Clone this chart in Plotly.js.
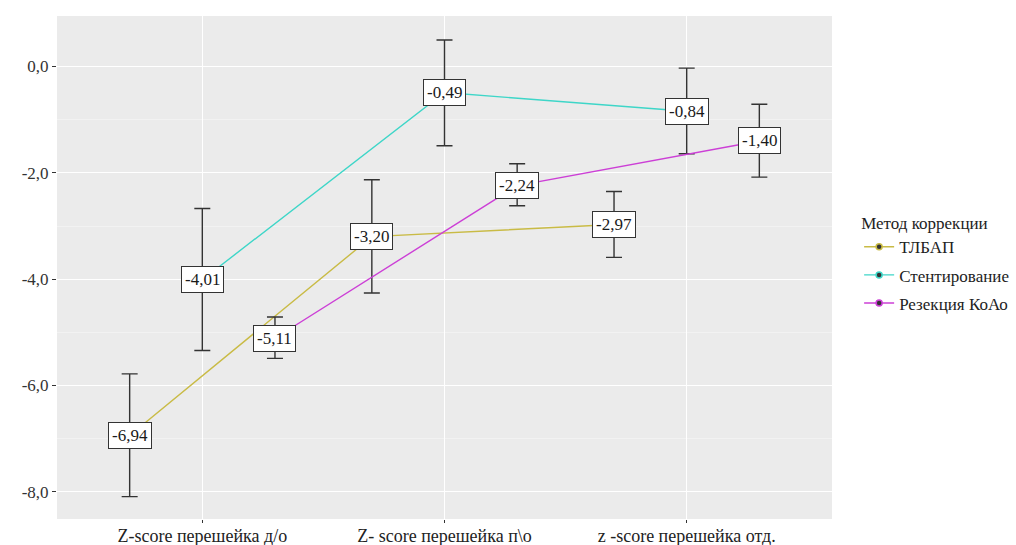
<!DOCTYPE html>
<html>
<head>
<meta charset="utf-8">
<script src="https://cdn.plot.ly/plotly-3.0.1.min.js"></script>
<style>html,body{margin:0;padding:0;background:#fff;}#chart{width:1016px;height:545px;}</style>
</head>
<body>
<div id="chart"></div>
<script>
// ---- data ----
var categories = ["Z-score перешейка д/о", "Z- score перешейка п\\о", "z -score перешейка отд."];
var seriesNames = ["ТЛБАП", "Стентирование", "Резекция КоАо"];
var tlbapMean  = [-6.94, -3.20, -2.97];
var tlbapUpper = [-5.78, -2.13, -2.35];
var tlbapLower = [-8.09, -4.26, -3.59];
var stentMean  = [-4.01, -0.49, -0.84];
var stentUpper = [-2.67, 0.50, -0.03];
var stentLower = [-5.34, -1.49, -1.64];
var rezMean    = [-5.11, -2.24, -1.40];
var rezUpper   = [-4.71, -1.83, -0.71];
var rezLower   = [-5.49, -2.62, -2.08];
var yTickVals  = [0, -2, -4, -6, -8];
var yTickText  = ["0,0", "-2,0", "-4,0", "-6,0", "-8,0"];

var colors = ["#C9BB45", "#3ED6C8", "#CC3FD6"];
var dodge = [-0.3, 0, 0.3];
var FONT = "Liberation Serif";

var series = [
  {mean: tlbapMean, up: tlbapUpper, lo: tlbapLower},
  {mean: stentMean, up: stentUpper, lo: stentLower},
  {mean: rezMean, up: rezUpper, lo: rezLower}
];

var traces = [];
var annotations = [];
series.forEach(function (s, i) {
  var xs = categories.map(function (c, k) { return k + 1 + dodge[i]; });
  traces.push({
    type: "scatter", mode: "lines+markers", name: seriesNames[i],
    legendgroup: "g" + i,
    x: xs, y: s.mean,
    line: {color: colors[i], width: 1.4},
    marker: {size: 6, color: "#333333", line: {color: colors[i], width: 1.5}},
    showlegend: true
  });
  traces.push({
    type: "scatter", mode: "none", x: xs, y: s.mean, showlegend: false, hoverinfo: "skip",
    legendgroup: "g" + i,
    error_y: {
      type: "data", symmetric: false,
      array: s.up.map(function (u, k) { return u - s.mean[k]; }),
      arrayminus: s.mean.map(function (m, k) { return m - s.lo[k]; }),
      color: "#333333", thickness: 1.4, width: 8
    }
  });
  s.mean.forEach(function (m, k) {
    annotations.push({
      x: xs[k], y: m, xref: "x", yref: "y", showarrow: false,
      text: m.toFixed(2).replace(".", ","),
      font: {family: FONT, size: 17, color: "#1a1a1a"},
      bgcolor: "#ffffff", bordercolor: "#333333", borderwidth: 1, borderpad: 3
    });
  });
});

var layout = {
  width: 1016, height: 545,
  margin: {l: 57, r: 184, t: 16, b: 26, autoexpand: false},
  paper_bgcolor: "#ffffff",
  plot_bgcolor: "#EBEBEB",
  font: {family: FONT, size: 16, color: "#333333"},
  xaxis: {
    range: [0.4, 3.6], tickvals: [1, 2, 3], ticktext: categories,
    showgrid: true, gridcolor: "#ffffff", gridwidth: 1.2, zeroline: false,
    ticks: "outside", ticklen: 3, tickcolor: "#333333", tickwidth: 1, ticklabelstandoff: -3,
    tickfont: {family: FONT, size: 18, color: "#222222"}, showline: false
  },
  yaxis: {
    range: [-8.51, 0.95], tickvals: yTickVals, ticktext: yTickText,
    showgrid: true, gridcolor: "#ffffff", gridwidth: 1.2, zeroline: false,
    ticks: "outside", ticklen: 4, tickcolor: "#333333", tickwidth: 1,
    tickfont: {family: FONT, size: 17, color: "#333333"},
    minor: {tickvals: [1, -1, -3, -5, -7], showgrid: true, gridcolor: "#F7F7F7", gridwidth: 0.6, ticks: ""}
  },
  legend: {
    x: 1.035, xanchor: "left", y: 0.62, yanchor: "top",
    title: {text: "Метод коррекции", font: {family: FONT, size: 17, color: "#222222"}},
    font: {family: FONT, size: 17, color: "#222222"},
    bgcolor: "rgba(0,0,0,0)", itemwidth: 30, tracegroupgap: 3
  },
  annotations: annotations,
  showlegend: true
};

Plotly.newPlot("chart", traces, layout, {displayModeBar: false, staticPlot: true});
</script>
</body>
</html>
